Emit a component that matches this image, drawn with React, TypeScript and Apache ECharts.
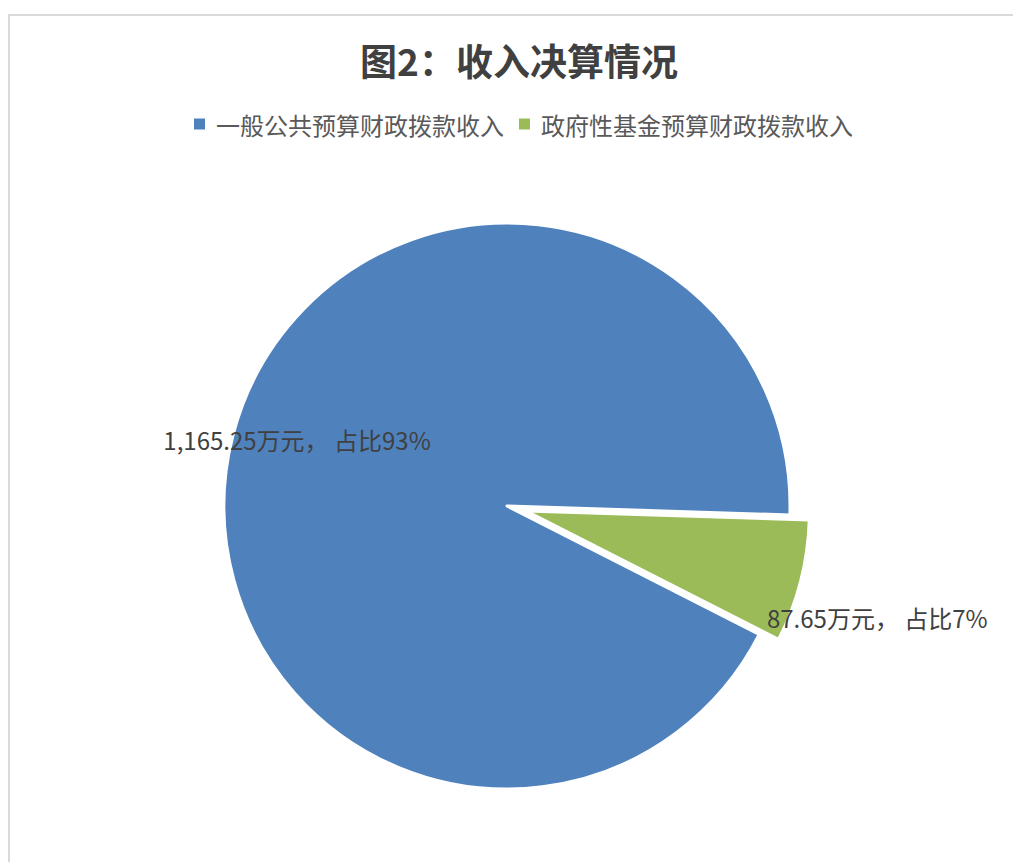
import React, { useEffect, useRef } from "react";
import * as echarts from "echarts";

const titleText = "图2：收入决算情况";
const categories = ["一般公共预算财政拨款收入", "政府性基金预算财政拨款收入"];
const values = [1165.25, 87.65];
const colors = ["#4F81BD", "#9BBB59"];

const fmt = (v: number) =>
  v.toLocaleString("en-US", { minimumFractionDigits: 2, maximumFractionDigits: 2 });

export default function App() {
  const ref = useRef<HTMLDivElement>(null);
  useEffect(() => {
    document.body.style.margin = "0";
    const chart = echarts.init(ref.current!, undefined, { renderer: "svg" });
    const total = values.reduce((a, b) => a + b, 0);
    const cjk = "'Noto Sans CJK SC', 'Open Sans', sans-serif";
    const labelOffsets = [
      [-70, -31],
      [211, 71],
    ];
    chart.setOption({
      animation: false,
      backgroundColor: "#ffffff",
      graphic: [
        {
          type: "rect",
          shape: { x: 9, y: 15, width: 1100, height: 900 },
          style: { fill: "none", stroke: "#d9d9d9", lineWidth: 2 },
          silent: true,
        },
      ],
      title: {
        text: titleText,
        left: 514,
        top: 36,
        textAlign: "center",
        textStyle: {
          fontFamily: cjk,
          fontWeight: "bold",
          fontSize: 37,
          color: "#404040",
        },
      },
      legend: {
        top: 107,
        left: 187,
        itemWidth: 13,
        itemHeight: 13,
        itemGap: 13,
        icon: "rect",
        textStyle: { fontFamily: cjk, fontSize: 24, color: "#595959", padding: [0, 0, 0, 5] },
        data: categories,
      },
      series: [
        {
          type: "pie",
          center: [507, 506],
          radius: 283,
          startAngle: -27,
          clockwise: true,
          selectedMode: "single",
          selectedOffset: 20,
          avoidLabelOverlap: false,
          itemStyle: { borderColor: "#ffffff", borderWidth: 3 },
          emphasis: { disabled: true },
          label: {
            show: true,
            position: "inside",
            fontFamily: cjk,
            fontSize: 24,
            color: "#404040",
            formatter: (p: any) =>
              `${fmt(p.value)}万元， 占比${Math.round((p.value / total) * 100)}%`,
          },
          labelLine: { show: false },
          data: categories.map((name, i) => ({
            name,
            value: values[i],
            selected: i === 1,
            itemStyle: { color: colors[i] },
            label: { offset: labelOffsets[i] },
            select: { label: { offset: labelOffsets[i] } },
          })),
        },
      ],
    });
    return () => chart.dispose();
  }, []);
  return <div ref={ref} style={{ width: 1013, height: 862 }} />;
}
